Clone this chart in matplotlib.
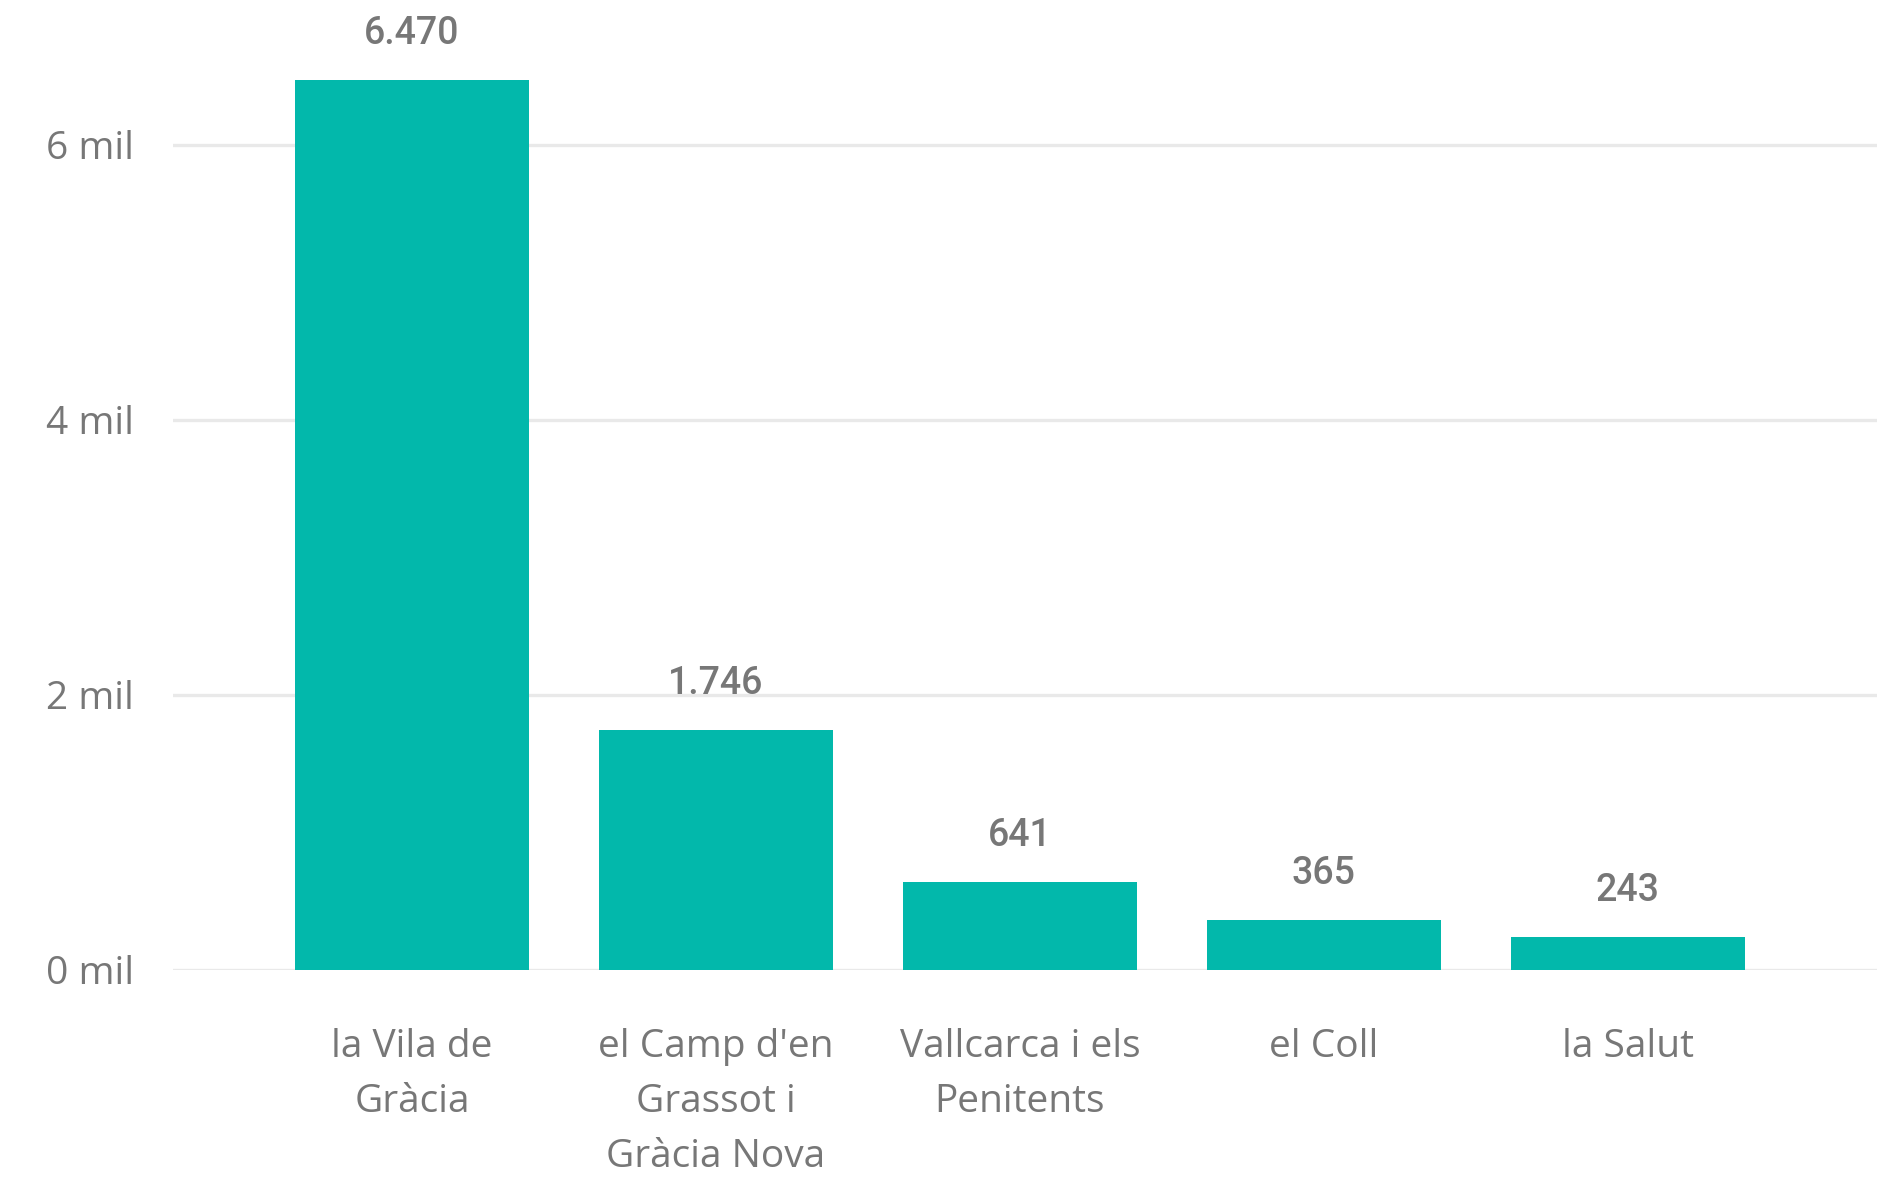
import matplotlib
matplotlib.use("Agg")
import matplotlib.pyplot as plt
from matplotlib.transforms import blended_transform_factory

categories = ["la Vila de\nGràcia", "el Camp d'en\nGrassot i\nGràcia Nova",
              "Vallcarca i els\nPenitents", "el Coll", "la Salut"]
values = [6470, 1746, 641, 365, 243]
value_labels = ["6.470", "1.746", "641", "365", "243"]
yticks = [0, 2000, 4000, 6000]
ytick_labels = ["0 mil", "2 mil", "4 mil", "6 mil"]

W, H, DPI = 1896, 1177, 100
fig = plt.figure(figsize=(W / DPI, H / DPI), dpi=DPI)
left_px, right_px, bottom_px, top_px = 173, 1877, 970, 0
ax = fig.add_axes([left_px / W, 1 - bottom_px / H, (right_px - left_px) / W, (bottom_px - top_px) / H])

bar_color = "#02B8AB"
text_color = "#777777"
grid_color = "#E9E9E9"

x = list(range(len(categories)))
ax.bar(x, values, width=0.77, color=bar_color, zorder=3)
ax.set_xlim(-0.786, 4.82)
ax.set_ylim(0, 7054)

for y in yticks:
    ax.axhline(y, color=grid_color, linewidth=2.4, zorder=1)

for s in ax.spines.values():
    s.set_visible(False)
ax.set_xticks([])
ax.set_yticks(yticks)
ax.set_yticklabels(ytick_labels, family=["Open Sans", "DejaVu Sans"], fontsize=28, color=text_color)
ax.tick_params(axis="y", length=0, pad=28)

for i, (v, lab) in enumerate(zip(values, value_labels)):
    ax.annotate(lab, xy=(i, v), xytext=(0, 28), textcoords="offset pixels",
                ha="center", va="bottom", fontsize=27, color=text_color,
                family=["Roboto", "DejaVu Sans"], fontweight="medium")

trans = blended_transform_factory(ax.transData, ax.transAxes)
for i, cat in enumerate(categories):
    ax.annotate(cat, xy=(i, 0), xycoords=trans, xytext=(0, -58), textcoords="offset pixels",
                ha="center", va="top", fontsize=28, color=text_color,
                family=["Open Sans", "DejaVu Sans"], linespacing=1.58, annotation_clip=False)

fig.savefig("out.png", dpi=DPI)
